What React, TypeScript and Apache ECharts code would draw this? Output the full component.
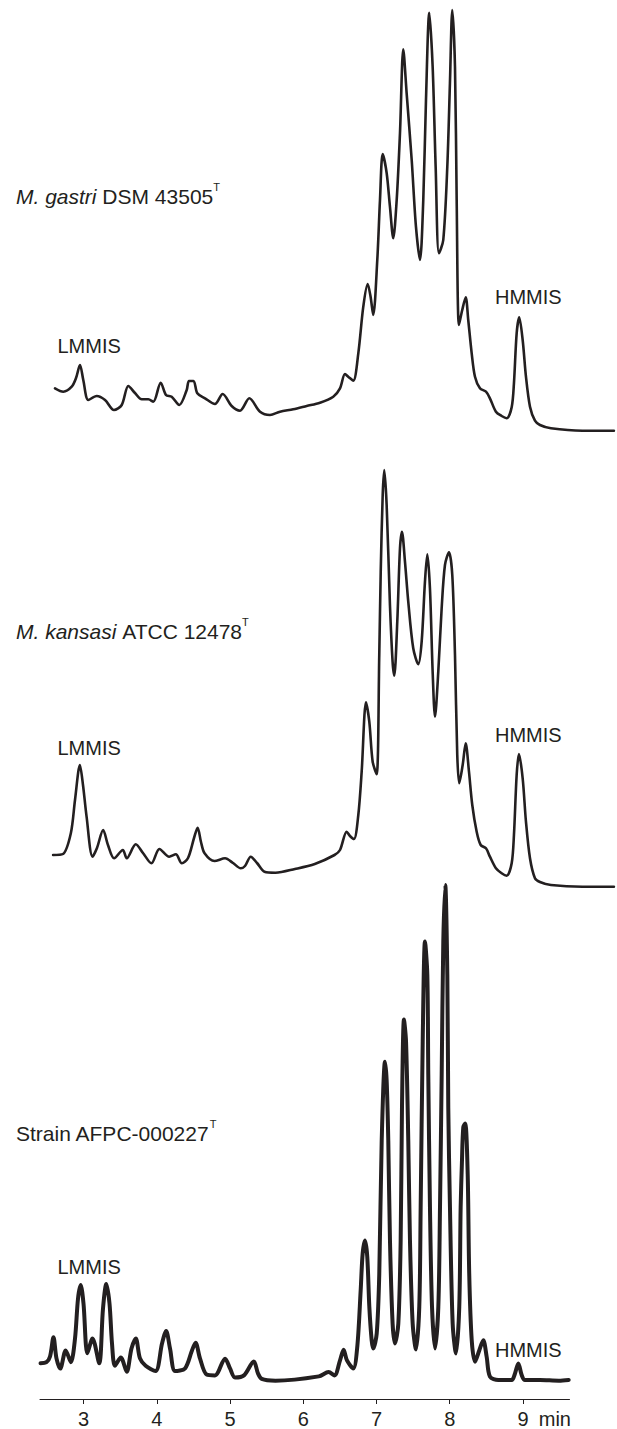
import React, { useEffect, useRef } from 'react';
import * as echarts from 'echarts';

// Retention time (min) tick marks shown on the shared time axis
const timeTicks = [3, 4, 5, 6, 7, 8, 9];

// Chromatogram traces: [retention time (min), detector signal (arbitrary units)]
const gastriTrace: [number, number][] = [
  [2.611, 51.7], [2.724, 48.3], [2.839, 53.3], [2.898, 62], [2.952, 75], [2.997, 60], [3.066, 40],
  [3.18, 44], [3.294, 40], [3.416, 30], [3.522, 35], [3.612, 54], [3.703, 47], [3.795, 40.7],
  [3.885, 40.7], [3.953, 38.3], [4.054, 57.3], [4.126, 45], [4.204, 43.3], [4.308, 35], [4.409, 50],
  [4.44, 59], [4.502, 59], [4.554, 46.7], [4.659, 41.7], [4.795, 36], [4.9, 46], [5.023, 34],
  [5.137, 29.3], [5.264, 41.7], [5.41, 28.3], [5.546, 25], [5.683, 28.3], [5.864, 30.7], [6.047, 34],
  [6.229, 37.3], [6.41, 43.3], [6.502, 51.7], [6.57, 66], [6.618, 63], [6.683, 59.3], [6.752, 86.7],
  [6.82, 133.3], [6.88, 156], [6.918, 144], [6.956, 125], [7.011, 180], [7.048, 240], [7.085, 286],
  [7.139, 267], [7.184, 233.3], [7.229, 201.7], [7.276, 240], [7.321, 307], [7.366, 390.7],
  [7.412, 346.7], [7.481, 280], [7.539, 213.3], [7.594, 180], [7.639, 240], [7.676, 340],
  [7.721, 427.3], [7.767, 373.3], [7.808, 273.3], [7.853, 186.7], [7.912, 200], [7.967, 273.3],
  [8.003, 356.7], [8.035, 430], [8.072, 373.3], [8.095, 240], [8.126, 115], [8.171, 130],
  [8.218, 142.7], [8.253, 120], [8.3, 86.7], [8.345, 63.3], [8.413, 51.7], [8.495, 48.3],
  [8.549, 41.7], [8.631, 28.3], [8.709, 24], [8.778, 21.7], [8.846, 32.7], [8.877, 56.7],
  [8.914, 106.7], [8.949, 122.7], [8.996, 100], [9.041, 63.3], [9.096, 33.3], [9.164, 19.3],
  [9.232, 15], [9.382, 11.7], [9.812, 9.3], [10.242, 9.3],
];

const kansasiiTrace: [number, number][] = [
  [2.585, 45], [2.72, 46], [2.827, 66.7], [2.884, 100], [2.951, 135], [2.993, 115], [3.042, 83.3],
  [3.123, 43.3], [3.184, 52], [3.268, 70], [3.334, 55], [3.418, 41.7], [3.537, 50], [3.59, 41.7],
  [3.714, 55.7], [3.812, 47], [3.928, 36.7], [4.036, 51], [4.17, 43.3], [4.261, 45.7], [4.342, 36.7],
  [4.427, 42], [4.509, 62], [4.558, 72.3], [4.604, 58], [4.653, 46.7], [4.788, 39], [4.933, 41.7],
  [5.041, 37], [5.147, 31.7], [5.205, 34], [5.283, 43.3], [5.369, 37], [5.471, 28.3], [5.621, 27.3],
  [5.887, 31], [6.158, 36], [6.427, 45], [6.502, 50], [6.593, 68.3], [6.638, 64], [6.693, 61],
  [6.752, 85], [6.798, 128.3], [6.857, 197.7], [6.902, 178.3], [6.948, 138.3], [7.003, 125.7],
  [7.038, 245], [7.058, 328.3], [7.085, 405], [7.106, 430], [7.139, 395], [7.184, 295],
  [7.22, 238.3], [7.243, 224.3], [7.284, 278.3], [7.321, 351.7], [7.348, 368.3], [7.389, 338.3],
  [7.434, 298.3], [7.502, 251.7], [7.571, 235.7], [7.617, 258.3], [7.662, 318.3], [7.694, 345.7],
  [7.73, 311.7], [7.767, 228.3], [7.799, 183.3], [7.844, 228.3], [7.89, 291.7], [7.935, 335],
  [7.99, 347.7], [8.035, 325], [8.072, 245], [8.103, 145], [8.13, 116.7], [8.177, 135],
  [8.218, 156.7], [8.263, 128.3], [8.308, 95], [8.368, 68.3], [8.423, 55], [8.495, 51.7],
  [8.549, 43.3], [8.631, 31.7], [8.709, 26.7], [8.778, 24.3], [8.846, 36.7], [8.877, 65],
  [8.914, 125], [8.945, 146], [8.996, 121.7], [9.041, 78.3], [9.096, 41.7], [9.164, 21.7],
  [9.232, 18], [9.382, 15], [9.812, 13.3], [10.242, 13.3],
];

const strainTrace: [number, number][] = [
  [2.413, 35.9], [2.494, 36.9], [2.543, 42.7], [2.59, 61.9], [2.631, 40.7], [2.682, 30.5],
  [2.757, 48.7], [2.827, 36.9], [2.884, 60.7], [2.925, 100.7], [2.962, 114.3], [3.0, 95.7],
  [3.053, 45.9], [3.123, 60.8], [3.214, 35.9], [3.266, 90.7], [3.311, 115.4], [3.355, 95.7],
  [3.389, 55.7], [3.429, 33.4], [3.509, 41.6], [3.59, 27.3], [3.655, 50.7], [3.714, 60.8],
  [3.771, 40.7], [3.848, 33.4], [3.983, 28], [4.072, 55.7], [4.128, 68.3], [4.181, 50.7],
  [4.251, 28], [4.386, 30.7], [4.481, 48.7], [4.53, 56.5], [4.59, 40.7], [4.681, 24.5],
  [4.795, 23.7], [4.933, 40.5], [5.0, 30.7], [5.068, 21.6], [5.191, 23.7], [5.325, 37.6],
  [5.382, 25.7], [5.433, 20.2], [5.621, 18.4], [6.212, 22.7], [6.346, 27], [6.427, 23.7],
  [6.502, 38.7], [6.551, 49.4], [6.597, 38.7], [6.683, 30.7], [6.738, 52.7], [6.784, 109],
  [6.811, 145.7], [6.843, 159], [6.874, 142.7], [6.902, 92.7], [6.934, 59], [6.956, 50.7],
  [7.003, 65.7], [7.038, 125.7], [7.071, 259], [7.116, 338.4], [7.139, 319], [7.161, 259],
  [7.184, 159], [7.22, 75.7], [7.253, 55.7], [7.298, 75.7], [7.33, 159], [7.348, 292.4],
  [7.375, 380.7], [7.403, 359], [7.434, 259], [7.457, 159], [7.494, 75.7], [7.539, 49.7],
  [7.584, 92.4], [7.603, 192.4], [7.631, 359], [7.662, 459], [7.694, 425.7], [7.707, 325.7],
  [7.73, 192.4], [7.758, 92.4], [7.799, 50.7], [7.844, 92.4], [7.867, 192.4], [7.89, 325.7],
  [7.912, 459], [7.939, 515.7], [7.967, 425.7], [7.98, 292.4], [8.003, 192.4], [8.04, 75.7],
  [8.085, 45.7], [8.13, 92.4], [8.149, 192.4], [8.167, 239], [8.185, 272.7], [8.212, 276.4],
  [8.245, 225.7], [8.266, 125.7], [8.3, 59], [8.345, 37.4], [8.404, 49], [8.458, 59],
  [8.504, 42.4], [8.549, 22.4], [8.663, 19], [8.845, 19.1], [8.891, 25.7], [8.936, 35.7],
  [8.982, 24], [9.027, 19], [9.232, 19], [9.489, 18.4], [9.624, 19.1],
];

// Sample names: italic species part + plain strain designation
const sampleItalic = ['M. gastri', 'M. kansasi', ''];
const samplePlain = ['DSM 43505', 'ATCC 12478', 'Strain AFPC-000227'];
const typeMark = 'T';
const standardLabels = ['LMMIS', 'HMMIS'];

const INK = '#231f20';
const FONT = '"Liberation Sans", Arial, Helvetica, sans-serif';

export default function App() {
  const ref = useRef<HTMLDivElement>(null);

  useEffect(() => {
    if (!ref.current) return;
    const chart = echarts.init(ref.current, null, { renderer: 'svg' });

    const traces = [gastriTrace, kansasiiTrace, strainTrace];
    const widths = [2.6, 2.6, 4];
    const grids = [
      { left: 40, top: 0, width: 577, height: 440 },
      { left: 40, top: 450, width: 577, height: 450 },
      { left: 40, top: 880.7, width: 529.5, height: 520 },
    ];
    const yMax = [440, 450, 520];
    const xMax = [10.284, 10.284, 9.635];

    const rich = {
      i: { fontSize: 21, fontStyle: 'italic', fontFamily: FONT, color: INK, lineHeight: 29 },
      n: { fontSize: 21, fontFamily: FONT, color: INK, lineHeight: 29 },
      s: { fontSize: 11, fontFamily: FONT, color: INK, lineHeight: 11, verticalAlign: 'top' },
    };

    const nameY = [196, 631, 1133];
    const lmmisY = [345.7, 748, 1267];
    const hmmisY = [296.7, 734.5, 1350.4];

    const graphics: any[] = [];
    for (let k = 0; k < 3; k++) {
      const it = sampleItalic[k];
      const txt = (it ? `{i|${it}} ` : '') + `{n|${samplePlain[k]}}{s|${typeMark}}`;
      graphics.push({
        type: 'text',
        x: 16,
        y: nameY[k],
        silent: true,
        style: {
          text: txt,
          rich,
          fontSize: 21,
          fontFamily: FONT,
          fill: INK,
          verticalAlign: 'middle',
          align: 'left',
        },
      });
      graphics.push({
        type: 'text',
        x: 57.5,
        y: lmmisY[k],
        silent: true,
        style: { text: standardLabels[0], fontSize: 20, fontFamily: FONT, fill: INK, verticalAlign: 'middle' },
      });
      graphics.push({
        type: 'text',
        x: 495,
        y: hmmisY[k],
        silent: true,
        style: { text: standardLabels[1], fontSize: 20, fontFamily: FONT, fill: INK, verticalAlign: 'middle' },
      });
    }

    const option: any = {
      animation: false,
      backgroundColor: '#ffffff',
      grid: grids,
      xAxis: grids.map((_, k) => {
        const base: any = {
          gridIndex: k,
          type: 'value',
          min: 2.406,
          max: xMax[k],
          splitLine: { show: false },
        };
        if (k < 2) return { ...base, show: false };
        return {
          ...base,
          axisLine: { show: true, lineStyle: { color: INK, width: 1 } },
          axisTick: { show: true, customValues: timeTicks, length: 5, lineStyle: { color: INK, width: 1 } },
          axisLabel: {
            show: true,
            customValues: timeTicks,
            fontSize: 20,
            fontFamily: FONT,
            color: INK,
            margin: 10,
          },
          name: 'min',
          nameLocation: 'end',
          nameGap: 1.5,
          nameTextStyle: {
            fontSize: 20,
            fontFamily: FONT,
            color: INK,
            align: 'right',
            verticalAlign: 'top',
            padding: [10, 0, 0, 0],
          },
        };
      }),
      yAxis: grids.map((_, k) => ({
        gridIndex: k,
        type: 'value',
        min: 0,
        max: yMax[k],
        show: false,
        splitLine: { show: false },
      })),
      series: traces.map((d, k) => ({
        type: 'line',
        xAxisIndex: k,
        yAxisIndex: k,
        data: d,
        symbol: 'none',
        showSymbol: false,
        smooth: 0.3,
        silent: true,
        lineStyle: { color: INK, width: widths[k], cap: 'round', join: 'round' },
      })),
      graphic: graphics,
    };

    chart.setOption(option);
    return () => chart.dispose();
  }, []);

  return (
    <div
      ref={ref}
      style={{ position: 'absolute', left: 0, top: 0, width: 617, height: 1429, background: '#fff' }}
    />
  );
}
